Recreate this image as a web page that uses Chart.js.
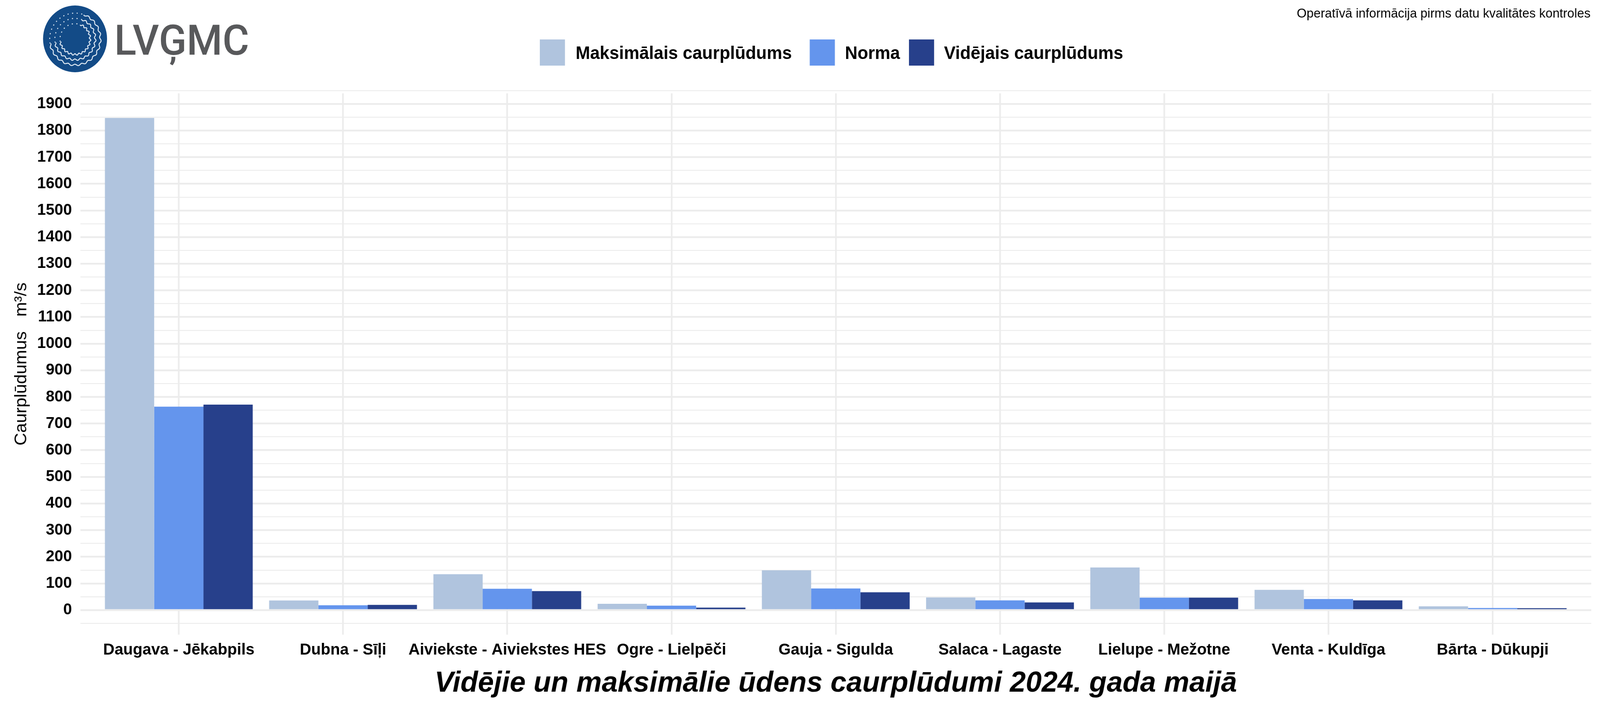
<!DOCTYPE html>
<html lang="lv">
<head>
<meta charset="utf-8">
<title>Caurplūdumi</title>
<script src="https://cdn.jsdelivr.net/npm/chart.js@4"></script>
<style>
  html, body { margin: 0; padding: 0; background: #fff; height: 1800px; overflow: hidden; }
  #wrap { position: relative; width: 4200px; height: 1800px; overflow: hidden; transform-origin: 0 0; }
  #chart { display: block; }
  #logo { position: absolute; left: 0; top: 0; }
</style>
</head>
<body>
<div id="wrap">
  <canvas id="chart" width="4200" height="1800" style="width:4200px;height:1800px"></canvas>
  <svg id="logo" width="700" height="200" viewBox="0 0 700 200">
    <ellipse cx="197" cy="99.5" rx="84" ry="85.5" fill="#134b87"/>
    <g id="rings" fill="none" stroke="#dfe9f3" stroke-width="2.5"></g>
    <text x="300" y="140" font-family="Roboto" font-weight="500" font-size="108" fill="#58595b" textLength="354" lengthAdjust="spacingAndGlyphs">LVĢMC</text>
  </svg>
</div>
<script>
// logs var būt šaurāks par 4200, tāpēc saspiežam visu lapu platumā
document.getElementById('wrap').style.transform = 'scaleX(' + (window.innerWidth / 4200) + ')';

// datu masīvi
const categories = ['Daugava - Jēkabpils', 'Dubna - Sīļi', 'Aiviekste - Aiviekstes HES', 'Ogre - Lielpēči', 'Gauja - Sigulda', 'Salaca - Lagaste', 'Lielupe - Mežotne', 'Venta - Kuldīga', 'Bārta - Dūkupji'];
const maxFlow = [1847, 35.7, 134.4, 23.5, 149, 47.4, 159.8, 75.8, 13.7];
const normFlow = [763.5, 18, 79.7, 16.6, 81, 36.2, 46.4, 41.5, 7.8];
const avgFlow = [771, 19.5, 70.9, 9.3, 66.5, 28.4, 46.4, 36.2, 6.8];
const majorTicks = [0, 100, 200, 300, 400, 500, 600, 700, 800, 900, 1000, 1100, 1200, 1300, 1400, 1500, 1600, 1700, 1800, 1900];
const minorTicks = [-50].concat(majorTicks.map(v => v + 50));

const seriesNames = ['Maksimālais caurplūdums', 'Norma', 'Vidējais caurplūdums'];
const seriesColors = ['#B0C4DE', '#6495ED', '#27408B'];
const titleText = 'Vidējie un maksimālie ūdens caurplūdumi 2024. gada maijā';
const noteText = 'Operatīvā informācija pirms datu kvalitātes kontroles';
const axisText = 'Caurplūdumus   m³/s';

const FONT = '"Liberation Sans", Arial, sans-serif';
const GRID = '#ececec';

function toPoints(values) {
  return values.map((v, i) => ({ x: i + 1, y: v }));
}

// logo loki: apakšā viļņoti, augšā pa kreisi punktēti
const rings = document.getElementById('rings');
[39.5, 53, 66.5].forEach(r => {
  let d = '';
  for (let a = -70; a <= 170; a += 1) {
    const rad = a * Math.PI / 180;
    const rr = r + 2 * Math.sin(a * 0.4);
    const px = 197 + rr * Math.cos(rad), py = 100 + rr * Math.sin(rad);
    d += (d ? 'L' : 'M') + px.toFixed(1) + ' ' + py.toFixed(1);
  }
  const wave = document.createElementNS('http://www.w3.org/2000/svg', 'path');
  wave.setAttribute('d', d);
  rings.appendChild(wave);
  const from = 170 * Math.PI / 180, to = -70 * Math.PI / 180;
  const dots = document.createElementNS('http://www.w3.org/2000/svg', 'path');
  dots.setAttribute('d', `M${197 + r * Math.cos(from)} ${100 + r * Math.sin(from)} A${r} ${r} 0 0 1 ${197 + r * Math.cos(to)} ${100 + r * Math.sin(to)}`);
  dots.setAttribute('stroke-dasharray', '3 9');
  rings.appendChild(dots);
});

// leģenda un piezīme augšā
const headerPlugin = {
  id: 'header',
  afterDraw(chart) {
    const ctx = chart.ctx;
    const boxes = [1417, 2125.5, 2386];
    const labels = [1511, 2218, 2478];
    ctx.save();
    ctx.textBaseline = 'alphabetic';
    ctx.fillStyle = '#000';
    ctx.textAlign = 'right';
    ctx.font = '33.2px ' + FONT;
    ctx.fillText(noteText, 4175, 45);
    ctx.textAlign = 'left';
    seriesNames.forEach((name, i) => {
      ctx.fillStyle = seriesColors[i];
      ctx.fillRect(boxes[i], 101, 66, 67);
      ctx.fillStyle = '#000';
      ctx.font = 'bold 45.6px ' + FONT;
      ctx.fillText(name, labels[i], 151);
    });
    ctx.restore();
  }
};

new Chart(document.getElementById('chart'), {
  type: 'bar',
  data: {
    datasets: seriesNames.map((name, i) => ({
      label: name,
      data: toPoints([maxFlow, normFlow, avgFlow][i]),
      backgroundColor: seriesColors[i],
      borderWidth: 0,
      categoryPercentage: 0.9,
      barPercentage: 1
    }))
  },
  options: {
    responsive: false,
    animation: false,
    devicePixelRatio: 1,
    layout: { padding: { left: 0, right: 23, top: 239, bottom: 12 } },
    plugins: {
      legend: { display: false },
      tooltip: { enabled: false },
      title: {
        display: true,
        text: titleText,
        position: 'bottom',
        fullSize: false,
        padding: 0,
        color: '#000',
        font: { family: FONT, size: 75, weight: 'bold', style: 'italic', lineHeight: 1 }
      }
    },
    scales: {
      x: {
        type: 'linear',
        min: 0.4,
        max: 9.6,
        offset: false,
        border: { display: false },
        grid: { offset: false, color: GRID, lineWidth: 4.4, drawTicks: false },
        afterBuildTicks(axis) { axis.ticks = categories.map((c, i) => ({ value: i + 1 })); },
        afterFit(axis) { axis.height = 88; },
        ticks: {
          autoSkip: false,
          maxRotation: 0,
          minRotation: 0,
          padding: 15,
          color: '#000',
          font: { family: FONT, size: 41.3, weight: 'bold' },
          callback: v => categories[v - 1]
        }
      },
      y: {
        min: -92.4,
        max: 1939.4,
        border: { display: false },
        grid: {
          color: GRID,
          drawTicks: false,
          lineWidth: c => (majorTicks.includes(c.tick.value) ? 4.4 : 2.2)
        },
        afterBuildTicks(axis) {
          axis.ticks = minorTicks.concat(majorTicks).sort((a, b) => a - b).map(v => ({ value: v }));
        },
        afterFit(axis) { axis.width = 210.7; },
        title: {
          display: true,
          text: axisText,
          color: '#000',
          padding: { top: 30, bottom: 0 },
          font: { family: FONT, size: 45, weight: 'normal' }
        },
        ticks: {
          autoSkip: false,
          padding: 22,
          color: '#000',
          font: { family: FONT, size: 41, weight: 'bold' },
          callback: v => (majorTicks.includes(v) ? String(v) : '')
        }
      }
    }
  },
  plugins: [headerPlugin]
});
</script>
</body>
</html>
